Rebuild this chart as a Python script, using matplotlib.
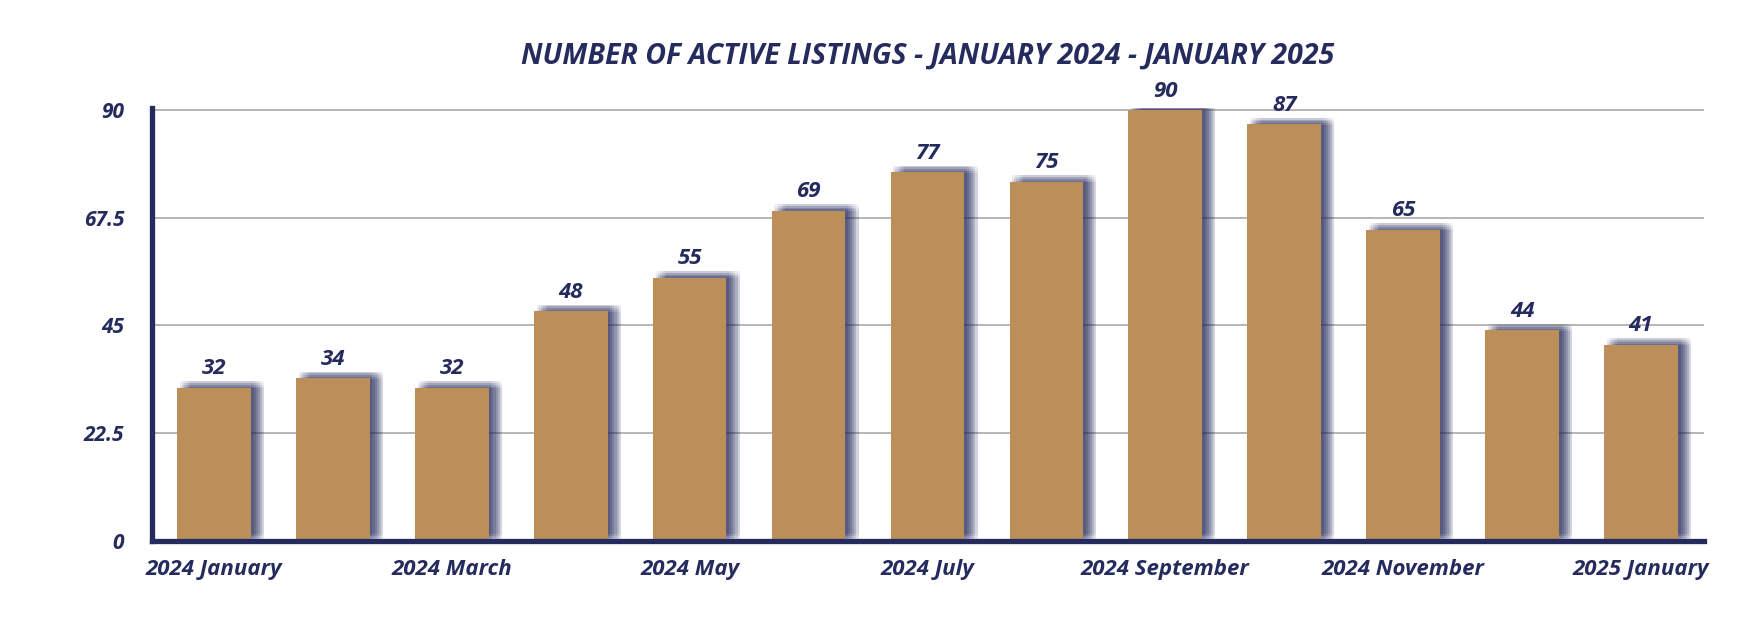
import matplotlib
matplotlib.use("Agg")
import matplotlib.pyplot as plt
from matplotlib import patheffects as pe

months = ["2024 January", "2024 February", "2024 March", "2024 April", "2024 May",
          "2024 June", "2024 July", "2024 August", "2024 September", "2024 October",
          "2024 November", "2024 December", "2025 January"]
listings = [32, 34, 32, 48, 55, 69, 77, 75, 90, 87, 65, 44, 41]
yticks = [0, 22.5, 45, 67.5, 90]
ytick_labels = ["0", "22.5", "45", "67.5", "90"]

NAVY = "#262b5e"
GOLD = "#bc8f5a"
FONT = "Open Sans"

plt.rcParams["font.family"] = [FONT, "DejaVu Sans"]

fig = plt.figure(figsize=(17.64, 6.28), dpi=100)
ax = fig.add_axes([0.0862, 0.1385, 0.8798, 0.6895])

# blurred navy drop shadow, faked with a grid of faint offset copies
shadow = [pe.SimplePatchShadow(offset=(dx, dy), shadow_rgbFace=NAVY, alpha=0.045)
          for dx in (2, 3.5, 5, 6.5, 8, 9.5) for dy in (-0.5, 0.8, 2.1, 3.4, 4.7)]
xs = range(len(months))
bars = ax.bar(xs, listings, width=0.62, color=GOLD, zorder=3,
              path_effects=shadow + [pe.Normal()])

for x, v in zip(xs, listings):
    ax.annotate(str(v), (x, v), xytext=(0, 6), textcoords="offset points",
                ha="center", va="bottom", fontsize=16, fontweight="bold",
                fontstyle="italic", color=NAVY, zorder=5)

ax.set_xlim(-0.52, 12.53)
ax.set_ylim(0, 90.4)
ax.set_yticks(yticks)
ax.set_yticklabels(ytick_labels)
ax.set_xticks(list(xs)[::2])
ax.set_xticklabels(months[::2])
ax.tick_params(axis="both", length=0, labelcolor=NAVY, labelsize=15)
ax.tick_params(axis="x", labelsize=16, pad=13)
ax.tick_params(axis="y", pad=20)
for lab in ax.get_xticklabels() + ax.get_yticklabels():
    lab.set_fontweight("bold")
    lab.set_fontstyle("italic")

ax.grid(axis="y", color="#b5b5b5", linewidth=1.4, zorder=0)
ax.set_axisbelow(True)
for s in ("top", "right"):
    ax.spines[s].set_visible(False)
for s in ("left", "bottom"):
    ax.spines[s].set_color(NAVY)
    ax.spines[s].set_linewidth(3.8)
    ax.spines[s].set_zorder(6)

fig.text(0.526, 1 - 56 / 628, "NUMBER OF ACTIVE LISTINGS - JANUARY 2024 - JANUARY 2025",
         ha="center", va="center", fontsize=20.5, fontweight="bold", fontstyle="italic",
         color=NAVY)

fig.savefig("out.png", dpi=100)
plt.close(fig)
